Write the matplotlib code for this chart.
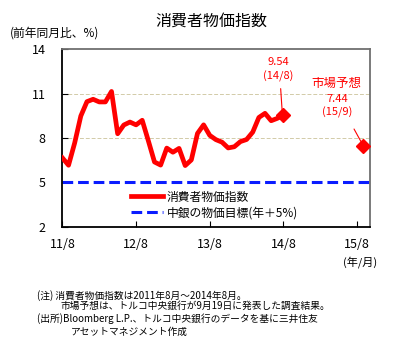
import numpy as np
import matplotlib
matplotlib.use("Agg")
from matplotlib import pyplot as plt

plt.rcParams['font.family'] = ['Noto Sans CJK JP', 'DejaVu Sans']

# monthly CPI, 2011/8 - 2014/8 (index 0 = 2011/8)
cpi = [6.65, 6.15, 7.66, 9.48, 10.45, 10.61, 10.43, 10.43, 11.14, 8.28,
       8.87, 9.07, 8.88, 9.19, 7.80, 6.37, 6.16, 7.31, 7.03, 7.29,
       6.13, 6.51, 8.30, 8.88, 8.17, 7.88, 7.71, 7.32, 7.40, 7.75,
       7.89, 8.39, 9.38, 9.66, 9.16, 9.32, 9.54]
forecast_month = 49   # 2015/9
forecast_value = 7.44
target = 5
tick_months = [0, 12, 24, 36, 48]
tick_labels = ['11/8', '12/8', '13/8', '14/8', '15/8']

fig = plt.figure(figsize=(4, 3.46), dpi=100)
ax = fig.add_axes([0.156, 0.345, 0.769, 0.513])

x = np.arange(len(cpi))
ax.plot(x, cpi, color='#ff0000', lw=3.4, solid_joinstyle='round',
        label='消費者物価指数', zorder=3)
ax.plot(x[-1], cpi[-1], marker='D', ms=7, color='#ff0000', zorder=4)
ax.plot(forecast_month, forecast_value, marker='D', ms=7, color='#ff0000', zorder=4)
ax.axhline(target, color='#0a1cff', lw=2.2, ls=(0, (3.5, 1.6)),
           label='中銀の物価目標(年＋5%)', zorder=2)
for g in [8, 11]:
    ax.axhline(g, color='#d2cba8', lw=0.7, ls=(0, (4, 2)), zorder=1)

ax.set_xlim(0, 50.1)
ax.set_ylim(2, 14)
ax.set_yticks([2, 5, 8, 11, 14])
ax.set_xticks(tick_months)
ax.set_xticklabels(tick_labels)
ax.tick_params(direction='in', length=4, labelsize=9, colors='black')
ax.tick_params(axis='x', pad=8)
ax.tick_params(axis='y', pad=12)
for s in ['top', 'right']:
    ax.spines[s].set_color('#707070')
for s in ['left', 'bottom']:
    ax.spines[s].set_color('black')
for s in ax.spines.values():
    s.set_linewidth(1.3)

# leader lines and labels
ax.annotate('', xy=(35.8, 9.77), xytext=(35.55, 11.33),
            arrowprops=dict(arrowstyle='-', color='#ff0000', lw=0.8,
                            shrinkA=0, shrinkB=0))
ax.annotate('', xy=(48.8, 7.62), xytext=(47.5, 8.6),
            arrowprops=dict(arrowstyle='-', color='#ff0000', lw=0.8,
                            shrinkA=0, shrinkB=0))
red_labels = [(35.1, 13.15, '9.54'), (35.1, 12.15, '(14/8)'),
              (44.7, 11.67, '市場予想'), (44.7, 10.62, '7.44'), (44.7, 9.7, '(15/9)')]
for lx, ly, t in red_labels:
    ax.text(lx, ly, t, ha='center', va='center', color='#ff0000',
            fontsize=9 if t == '市場予想' else 8)

ax.legend(loc='lower left', bbox_to_anchor=(0.2, 0.0), frameon=False,
          fontsize=8.5, handlelength=2.7, handletextpad=0.3,
          labelspacing=0.25, borderaxespad=0.2)

fig.text(0.528, 0.94, '消費者物価指数', ha='center', va='center', fontsize=11.5)
fig.text(0.025, 0.905, '(前年同月比、%)', ha='left', va='center', fontsize=8.5)
fig.text(0.858, 0.243, '(年/月)', ha='left', va='center', fontsize=8)

notes = [
    (0.092, 0.853, '(注) 消費者物価指数は2011年8月～2014年8月。'),
    (0.152, 0.885, '市場予想は、トルコ中央銀行が9月19日に発表した調査結果。'),
    (0.092, 0.92, '(出所)Bloomberg L.P.、トルコ中央銀行のデータを基に三井住友'),
    (0.178, 0.958, 'アセットマネジメント作成'),
]
for nx, ny, t in notes:
    fig.text(nx, 1 - ny, t, ha='left', va='center', fontsize=7)

fig.savefig('out.png', dpi=100)
